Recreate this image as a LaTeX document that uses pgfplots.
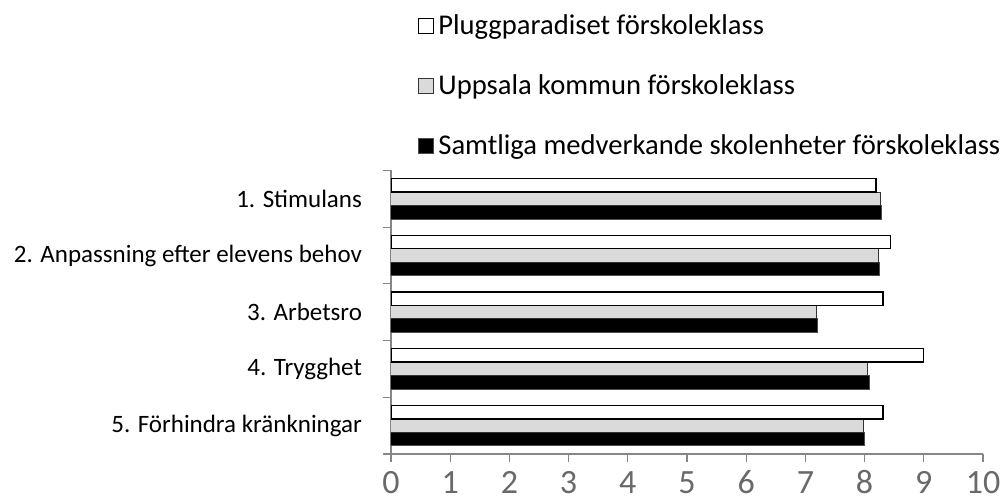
\documentclass[border=0pt]{standalone}
\usepackage{pgfplots}
\pgfplotsset{compat=1.18}
\usepackage{fontspec}
\setmainfont{Carlito}
\definecolor{axgray}{RGB}{134,134,134}
\definecolor{barfill}{RGB}{218,218,218}
\definecolor{tickgray}{RGB}{105,105,105}

\begin{document}
\begin{tikzpicture}
\begin{axis}[
  name=a, at={(0,0)}, anchor=south west,
  scale only axis, width=296pt, height=141.75pt,
  xbar=0pt, bar width=6.75pt,
  xmin=0, xmax=10, ymin=0.5, ymax=5.5, y dir=reverse,
  axis x line*=bottom, axis y line*=left,
  axis line style={axgray, line width=0.6pt, -},
  tick align=outside, major tick length=4pt,
  xtick={0,1,...,10},
  x tick style={draw=axgray, line width=0.6pt},
  xticklabel style={font=\fontsize{17}{19}\selectfont, text=tickgray,
    anchor=north, inner sep=0pt, text height=10.8pt, text depth=0pt, yshift=-4.8pt},
  /pgf/number format/assume math mode=true,
  ytick={1,2,3,4,5},
  yticklabels={1. Stimulans, 2. Anpassning efter elevens behov, 3. Arbetsro, 4. Trygghet, 5. Förhindra kränkningar},
  y tick style={draw=none},
  yticklabel style={font=\fontsize{12.5}{15}\selectfont, text=black, xshift=-7pt},
  extra y ticks={0.5,1.5,2.5,3.5,4.5,5.5},
  extra y tick labels={},
  extra y tick style={y tick style={draw=axgray, line width=0.6pt}},
  legend style={draw=none, fill=none, inner sep=0pt, row sep=14.5pt,
    font=\fontsize{14.3}{17}\selectfont,
    at={(axis description cs:0,1)}, anchor=south west, xshift=13.5pt, yshift=4.5pt},
  legend cell align=left,
  reverse legend,
  legend image code/.code={\draw[#1, line width=0.5pt] (0pt,-3.75pt) rectangle (7.5pt,3.75pt);},
]
\addplot[fill=black, draw=black!70, line width=0.5pt] coordinates {(8.29,1)(8.26,2)(7.20,3)(8.09,4)(8.00,5)};
\addplot[fill=barfill, draw=black!80, line width=0.5pt] coordinates {(8.27,1)(8.24,2)(7.19,3)(8.05,4)(7.98,5)};
\addplot[fill=white, draw=black, line width=0.7pt] coordinates {(8.19,1)(8.44,2)(8.31,3)(9.00,4)(8.31,5)};
\legend{Samtliga medverkande skolenheter förskoleklass, Uppsala kommun förskoleklass, Pluggparadiset förskoleklass}
\end{axis}
\pgfresetboundingbox
\path[use as bounding box] ([shift={(-195.5pt,-23.5pt)}]a.south west) rectangle ([shift={(305.5pt,227pt)}]a.south west);
\end{tikzpicture}
\end{document}
